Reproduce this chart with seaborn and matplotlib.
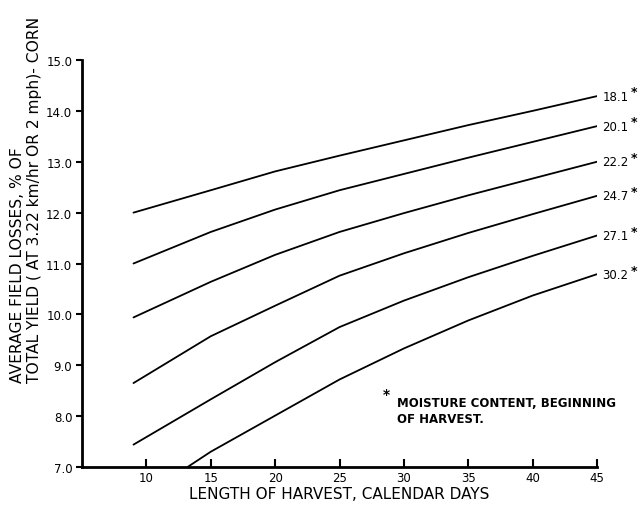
import matplotlib
matplotlib.use("Agg")
import matplotlib.pyplot as plt
import seaborn as sns
import pandas as pd

# ---- data ----
days = [9, 15, 20, 25, 30, 35, 40, 45]
days_302 = [13.2, 15, 20, 25, 30, 35, 40, 45]
loss_181 = [12.00, 12.44, 12.81, 13.12, 13.42, 13.72, 14.00, 14.29]
loss_201 = [11.00, 11.62, 12.06, 12.44, 12.76, 13.08, 13.39, 13.70]
loss_222 = [9.94, 10.64, 11.17, 11.62, 11.99, 12.34, 12.67, 13.00]
loss_247 = [8.65, 9.57, 10.17, 10.76, 11.20, 11.60, 11.97, 12.33]
loss_271 = [7.44, 8.33, 9.06, 9.75, 10.27, 10.73, 11.15, 11.55]
loss_302 = [7.00, 7.30, 8.01, 8.72, 9.33, 9.88, 10.37, 10.79]
moisture_labels = ["18.1", "20.1", "22.2", "24.7", "27.1", "30.2"]
x_ticks = [10, 15, 20, 25, 30, 35, 40, 45]
y_ticks = [7.0, 8.0, 9.0, 10.0, 11.0, 12.0, 13.0, 14.0, 15.0]

series = [
    (moisture_labels[0], days, loss_181),
    (moisture_labels[1], days, loss_201),
    (moisture_labels[2], days, loss_222),
    (moisture_labels[3], days, loss_247),
    (moisture_labels[4], days, loss_271),
    (moisture_labels[5], days_302, loss_302),
]
rows = []
for lab, xs, ys in series:
    for x, y in zip(xs, ys):
        rows.append({"moisture": lab, "days": x, "loss": y})
df = pd.DataFrame(rows)

sns.set_theme(style="ticks")
plt.rcParams["font.family"] = ["DejaVu Sans"]
plt.rcParams["text.color"] = "black"
plt.rcParams["axes.labelcolor"] = "black"
plt.rcParams["xtick.color"] = "black"
plt.rcParams["ytick.color"] = "black"

fig = plt.figure(figsize=(6.4, 5.06), dpi=100)
ax = fig.add_axes([82 / 640, 1 - 468 / 506, (597 - 82) / 640, (468 - 61) / 506])

sns.lineplot(data=df, x="days", y="loss", hue="moisture",
             palette=["black"] * 6, estimator=None, sort=False,
             legend=False, linewidth=1.3, ax=ax)

ax.set_xlim(5, 45)
ax.set_ylim(7, 15)
ax.set_xticks(x_ticks)
ax.set_xticklabels([str(t) for t in x_ticks], fontsize=8.5)
ax.set_yticks(y_ticks)
ax.set_yticklabels([f"{t:.1f}" for t in y_ticks], fontsize=8.5)
ax.tick_params(axis="x", direction="in", length=6, width=1.5, pad=3, colors="black")
ax.tick_params(axis="y", direction="out", length=4, width=1.5, pad=3, colors="black")
for s in ["top", "right"]:
    ax.spines[s].set_visible(False)
for s in ["left", "bottom"]:
    ax.spines[s].set_linewidth(2)
    ax.spines[s].set_color("black")

ax.set_xlabel("LENGTH OF HARVEST, CALENDAR DAYS", fontsize=11, labelpad=1)
ax.set_ylabel("")
fig.text(26 / 640, 1 - 383 / 506,
         "AVERAGE FIELD LOSSES, % OF\nTOTAL YIELD ( AT 3.22 km/hr OR 2 mph)- CORN",
         rotation=90, ha="center", va="bottom", multialignment="left",
         fontsize=11.2, linespacing=1.18)

for lab, xs, ys in series:
    ax.annotate(lab, xy=(xs[-1], ys[-1]), xytext=(4, 0), textcoords="offset points",
                ha="left", va="center", fontsize=8.5, annotation_clip=False)
    ax.annotate("*", xy=(xs[-1], ys[-1]), xytext=(24.5, 3), textcoords="offset points",
                ha="left", va="center", fontsize=9, fontweight="bold",
                annotation_clip=False)

ax.text(0.585, 0.18, "*", transform=ax.transAxes, fontsize=10, fontweight="bold",
        ha="left", va="center")
ax.text(0.612, 0.175, "MOISTURE CONTENT, BEGINNING\nOF HARVEST.", transform=ax.transAxes,
        fontsize=8.5, fontweight="bold", ha="left", va="top", linespacing=1.35)

fig.savefig("out.png", dpi=100, facecolor="white")
